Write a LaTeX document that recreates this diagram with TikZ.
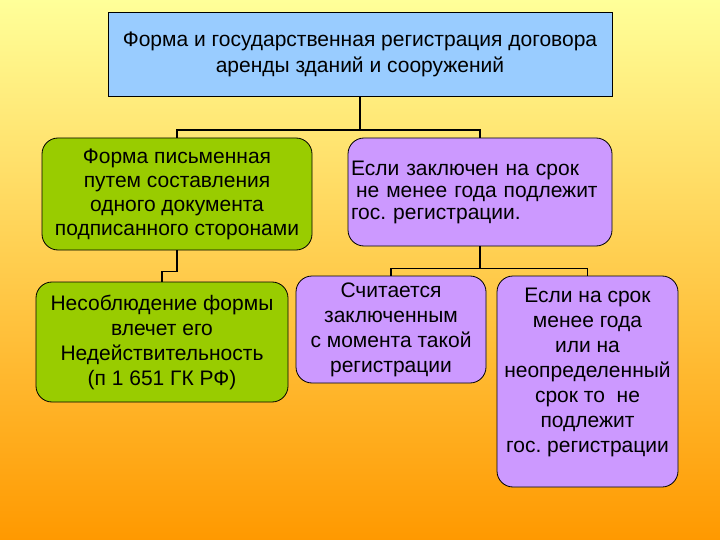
\documentclass[tikz,border=0pt]{standalone}
\usepackage{fontspec}
\setmainfont{Liberation Sans}
\usepackage{xcolor}
\usetikzlibrary{positioning,calc}
\definecolor{bgtop}{RGB}{255,255,153}
\definecolor{bgbot}{RGB}{255,153,0}
\definecolor{hdr}{RGB}{153,204,255}
\definecolor{grn}{RGB}{153,204,0}
\definecolor{vio}{RGB}{204,153,255}
\frenchspacing
\tikzset{
  box/.style ={draw=black,line width=0.8pt,inner sep=2pt,font=\fontsize{21}{25}\selectfont},
  hbox/.style={box,fill=hdr,minimum width=504pt,minimum height=84pt,align=center},
  gbox/.style={box,fill=grn,rounded corners=16pt,align=center},
  vbox/.style={box,fill=vio,rounded corners=16pt,align=center},
  link/.style={line width=1.8pt,black},
}
\begin{document}
\begin{tikzpicture}[x=1pt,y=-1pt]
  \fill[top color=bgtop,bottom color=bgbot] (0,0) rectangle (720,540);
  \useasboundingbox (0,0) rectangle (720,540);
  \node[hbox,font=\fontsize{21}{26}\selectfont] (top) at (360,54){Форма и государственная регистрация договора\\аренды зданий и сооружений};
  \node[gbox,minimum width=270pt,minimum height=112pt,font=\fontsize{21}{24}\selectfont] (g1) at (177,194){Форма письменная\\путем составления\\одного документа\\подписанного сторонами};
  \node[vbox,minimum width=264pt,minimum height=108pt,align=left,text width=258pt,font=\fontsize{21}{22}\selectfont] (p1) at (480,192){Если заключен на срок\\\hspace{5pt}не менее года подлежит\\гос. регистрации.};
  \node[gbox,minimum width=252pt,minimum height=120pt] (g2) at (162,342){Несоблюдение формы\\влечет его\\Недействительность\\(п 1 651 ГК РФ)};
  \node[vbox,minimum width=190pt,minimum height=107pt] (p2) at (391,329.5){Считается\\заключенным\\с момента такой\\регистрации};
  \node[vbox,minimum width=181pt,minimum height=211pt] (p3) at (587.5,381.5){Если на срок\\менее года\\или на\\неопределенный\\срок то\ \ не\\подлежит\\гос. регистрации\\[-2pt]};
  \draw[link] (top.south) -- ++(0,34) -| (g1.north);
  \draw[link] (top.south) -- ++(0,34) -| (p1.north);
  \draw[link] (g1.south) -- ++(0,21) -| (g2.north);
  \draw[link] (p1.south) -- ++(0,22) -| (p2.north);
  \draw[link] (p1.south) -- ++(0,22) -| (p3.north);
\end{tikzpicture}
\end{document}
